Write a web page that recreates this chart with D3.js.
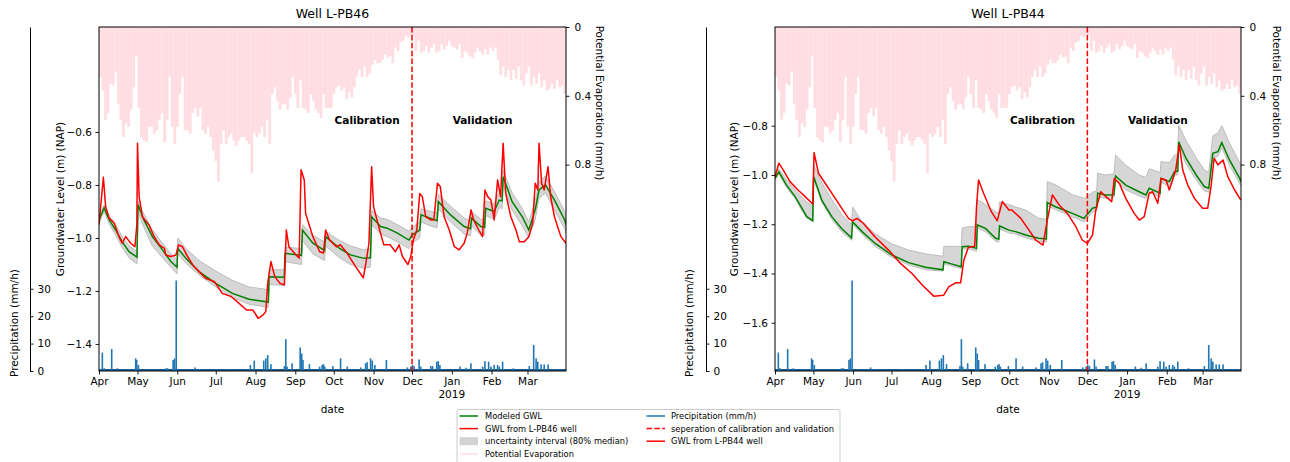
<!DOCTYPE html>
<html><head><meta charset="utf-8">
<script src="https://cdn.jsdelivr.net/npm/d3@7"></script>
<style>body{margin:0;background:#fff} text{font-family:"DejaVu Sans",sans-serif;fill:#000}</style>
</head><body><svg id="c" width="1290" height="462"></svg>
<script>
// ---------------- DATA ----------------
const startDate = new Date(Date.UTC(2018, 3, 1));
const endDate = new Date(Date.UTC(2019, 2, 31));
const separationDay = 244; // 1 Dec 2018
const calibrationLabelDay = 209, validationLabelDay = 299;

// potential evaporation (mm/h), daily maximum, one value per 2 days from 1 Apr 2018
const evapStepDays = 2;
const evapValues = [0.29,0.37,0.54,0.50,0.33,0.34,0.26,0.45,0.54,0.64,0.56,0.58,0.48,0.35,0.17,0.47,0.64,0.66,0.67,0.58,0.58,0.62,0.60,0.54,0.50,0.67,0.54,0.29,0.58,0.68,0.58,0.39,0.29,0.60,0.60,0.62,0.50,0.47,0.52,0.47,0.60,0.62,0.58,0.64,0.72,0.78,0.90,0.68,0.60,0.68,0.64,0.62,0.66,0.69,0.66,0.64,0.64,0.66,0.68,0.85,0.62,0.64,0.62,0.58,0.64,0.54,0.68,0.39,0.35,0.43,0.48,0.45,0.45,0.48,0.41,0.29,0.39,0.47,0.31,0.47,0.48,0.50,0.39,0.43,0.48,0.50,0.53,0.39,0.47,0.47,0.47,0.39,0.35,0.34,
0.37,0.35,0.42,0.38,0.41,0.35,0.29,0.25,0.29,0.23,0.29,0.27,0.22,0.19,0.21,0.21,0.19,0.16,0.18,0.17,0.21,0.12,0.14,0.09,0.08,0.05,0.06,0.05,0.05,0.14,0.08,0.15,0.14,0.11,0.15,0.12,0.10,0.15,0.14,0.10,0.13,0.11,0.08,0.11,0.12,0.13,0.10,0.18,0.14,0.15,0.17,0.18,0.15,0.12,0.14,0.16,0.13,0.16,0.12,0.14,0.12,0.19,0.28,0.23,0.29,0.25,0.31,0.25,0.30,0.23,0.31,0.34,0.27,0.23,0.34,0.29,0.33,0.27,0.35,0.31,0.37,0.36,0.33,0.36,0.31,0.35,0.34,0.39,0.40];

// precipitation events [day since 1 Apr 2018, mm/h]
const precipitation = [[2.6,6.7],[4,1],[9.9,8.0],[14.3,1],[23.4,0.7],[28.6,4.6],[29.4,4],[30.7,2.2],[52,1],[53.4,1],[57.8,4],[58.9,4.6],[60.2,33],[74.7,1.3],[78,0.7],[99.7,0.7],[118,2.2],[121,3.8],[128.4,3.8],[130,4.6],[131.5,5.8],[134,2.5],[138,0.6],[144.5,1.8],[145.6,11.6],[146.6,1.6],[150.5,2.8],[156.8,8.6],[158,6.4],[159,4],[164,2.5],[172,1.6],[174,2.2],[175,2.5],[176,1.6],[182.3,1.8],[188.3,4.6],[193.5,1.6],[204,1.3],[207.8,2.8],[209,3.2],[211.7,4.6],[213,3.8],[215,2.2],[224,4],[240.4,1.3],[243,1.6],[244.3,2.2],[245.6,1.8],[249.5,4.2],[250.8,1.6],[258.6,1.8],[260,1.8],[263.3,3.4],[264.4,3.6],[265.7,2.2],[275.6,0.6],[281.5,1.6],[286,1.2],[289.9,2.8],[295,0.7],[299,1.6],[300.8,3.6],[303.7,3.4],[305.5,1.6],[308,2.2],[310.7,2.2],[312,1.6],[314.6,3.4],[323,1],[335.4,1.8],[338.8,9.5],[340.7,4.6],[342,3.4],[344.6,2.4],[347,2.4],[350,2.4],[357.6,0.6],[362.8,0.6]];

// L-PB46 observed GWL [day, m NAP]
const pb46Observed = [[0,-0.951],[3.4,-0.771],[5.2,-0.882],[7.8,-0.925],[11.7,-0.943],[15.6,-0.995],[18,-1.02],[20.8,-0.995],[24.7,-1.02],[28,-1.033],[29.5,-0.95],[30,-0.643],[31.3,-0.844],[33.8,-0.92],[39,-0.951],[43,-0.995],[47,-1.026],[51,-1.039],[52,-1.064],[56,-1.07],[60,-1.064],[62,-1.026],[65,-1.033],[69,-1.07],[74,-1.108],[78,-1.127],[83,-1.152],[90,-1.165],[96,-1.209],[103,-1.221],[109,-1.246],[115,-1.272],[120,-1.272],[124,-1.303],[128,-1.29],[130,-1.278],[131.5,-1.171],[134,-1.089],[137,-1.146],[141,-1.171],[144.5,-1.177],[146,-0.97],[148,-1.033],[153.6,-1.064],[156,-1.076],[157.5,-0.743],[160,-0.781],[161,-0.907],[166.7,-0.995],[172,-1.052],[175,-1.057],[176.6,-0.97],[179.7,-1.008],[185,-1.033],[188,-1.026],[193.5,-1.058],[200,-1.108],[206,-1.15],[208,-1.096],[210.4,-1.02],[212.5,-0.731],[214,-0.882],[218,-0.957],[222,-1.026],[227,-1.026],[231,-1.052],[234,-1.026],[236.5,-1.07],[240.8,-1.10],[243,-1.07],[245,-1.008],[247.7,-0.97],[250,-0.832],[252,-0.844],[254.7,-0.92],[258.6,-0.932],[261,-0.932],[263.8,-0.794],[266,-0.806],[269,-0.92],[273,-0.97],[277,-1.033],[280.7,-1.045],[284.6,-1.02],[287,-0.982],[290,-0.894],[292,-0.932],[296,-0.97],[299,-0.995],[300.8,-0.819],[303,-0.844],[305.5,-0.857],[308,-0.932],[310.7,-0.781],[313,-0.844],[315,-0.643],[317,-0.832],[321,-0.92],[325,-0.97],[327.6,-1.014],[331.5,-1.014],[335,-0.995],[338,-0.945],[340,-0.794],[342,-0.819],[343,-0.643],[345,-0.794],[347,-0.819],[350,-0.731],[352,-0.844],[355,-0.92],[360,-0.995],[364,-1.02]];

// L-PB46 modeled GWL [day, median, lower 10%, upper 90%]
const pb46Modeled = [[0,-0.932,-0.945,-0.92],[4,-0.887,-0.9,-0.875],[8,-0.932,-0.948,-0.915],[13,-0.97,-0.99,-0.95],[18,-1.014,-1.035,-0.995],[23.4,-1.052,-1.075,-1.03],[29.6,-1.072,-1.098,-1.05],[30.4,-0.875,-0.9,-0.86],[35,-0.932,-0.96,-0.91],[41.6,-0.995,-1.03,-0.97],[49.5,-1.045,-1.075,-1.02],[56,-1.089,-1.11,-1.06],[60.8,-1.11,-1.135,-1.08],[61.4,-1.039,-1.06,-1.0],[67.7,-1.077,-1.095,-1.04],[78,-1.127,-1.14,-1.085],[91,-1.171,-1.185,-1.125],[104,-1.209,-1.225,-1.16],[117,-1.231,-1.25,-1.185],[132,-1.242,-1.262,-1.195],[132.6,-1.146,-1.175,-1.12],[144.4,-1.148,-1.18,-1.12],[145,-1.058,-1.09,-1.035],[157.8,-1.066,-1.1,-1.04],[158.6,-0.97,-1.01,-0.95],[166.7,-1.02,-1.06,-0.99],[175.8,-1.047,-1.085,-1.015],[176.6,-0.995,-1.03,-0.975],[187.5,-1.039,-1.075,-1.01],[196,-1.064,-1.1,-1.03],[206.5,-1.077,-1.115,-1.045],[211.6,-1.075,-1.11,-1.04],[212.5,-0.92,-0.95,-0.895],[219.5,-0.957,-0.985,-0.925],[224.7,-0.963,-0.995,-0.93],[232.6,-0.982,-1.015,-0.95],[241.6,-1.008,-1.04,-0.975],[244,-0.989,-1.02,-0.96],[250,-0.97,-1.0,-0.94],[251,-0.913,-0.94,-0.89],[258.6,-0.926,-0.955,-0.9],[263.5,-0.935,-0.962,-0.905],[264.5,-0.863,-0.89,-0.835],[274,-0.913,-0.94,-0.88],[284.6,-0.957,-0.985,-0.925],[289.5,-0.965,-0.992,-0.935],[290.5,-0.926,-0.955,-0.9],[297.7,-0.957,-0.99,-0.93],[300.5,-0.96,-0.99,-0.93],[301.4,-0.888,-0.915,-0.86],[308,-0.9,-0.93,-0.87],[312,-0.857,-0.885,-0.83],[314.2,-0.86,-0.89,-0.83],[315,-0.769,-0.8,-0.745],[322,-0.863,-0.895,-0.83],[330,-0.92,-0.955,-0.89],[335,-0.97,-1.0,-0.94],[340,-0.894,-0.93,-0.86],[343,-0.819,-0.85,-0.79],[348,-0.8,-0.83,-0.765],[355,-0.857,-0.895,-0.825],[363,-0.932,-0.965,-0.9],[364,-0.95,-0.985,-0.915]];

// L-PB44 observed GWL [day, m NAP]
const pb44Observed = [[0,-1.007],[3,-0.952],[6.5,-0.98],[11.7,-1.027],[18,-1.061],[23.5,-1.088],[29.5,-1.118],[30.5,-0.909],[34,-0.993],[41.8,-1.054],[49.6,-1.115],[57.4,-1.176],[60.5,-1.186],[64,-1.176],[69,-1.196],[78,-1.251],[88.7,-1.305],[98,-1.359],[107,-1.4],[115,-1.447],[124,-1.492],[131.8,-1.488],[135.7,-1.454],[141,-1.438],[145,-1.438],[147.5,-1.346],[151,-1.294],[156,-1.289],[157.4,-1.129],[159,-1.02],[163,-1.075],[169,-1.149],[173.6,-1.186],[177.5,-1.108],[182.7,-1.142],[185,-1.142],[192,-1.176],[198.4,-1.224],[203.6,-1.264],[209.3,-1.285],[212.7,-1.183],[216.7,-1.081],[222,-1.122],[228.4,-1.156],[235,-1.21],[240,-1.264],[244,-1.278],[248,-1.244],[250.6,-1.142],[254.5,-1.068],[258.4,-1.088],[263,-1.108],[265,-1.014],[269,-1.034],[274,-1.095],[280.6,-1.156],[284.5,-1.183],[288.4,-1.169],[292.3,-1.074],[295,-1.068],[299,-1.115],[301.5,-1.014],[305.4,-1.02],[308,-1.061],[310.6,-1.02],[313,-0.98],[315.8,-0.878],[318.5,-0.98],[322.4,-1.041],[327.6,-1.095],[334,-1.135],[338,-1.135],[340.6,-1.047],[343,-0.932],[346,-0.959],[350,-0.939],[353.7,-1.007],[359,-1.061],[363,-1.095],[364,-1.10]];

// L-PB44 modeled GWL [day, median, lower, upper]
const pb44Modeled = [[0,-1.014,-1.02,-1.0],[3,-0.987,-0.995,-0.975],[9,-1.041,-1.05,-1.02],[15.7,-1.088,-1.095,-1.06],[21,-1.135,-1.145,-1.09],[24.8,-1.169,-1.175,-1.11],[29.5,-1.185,-1.19,-1.125],[30.2,-1.007,-1.015,-0.96],[36.5,-1.102,-1.11,-1.03],[44.4,-1.169,-1.18,-1.1],[52,-1.217,-1.23,-1.16],[59.8,-1.255,-1.265,-1.2],[60.6,-1.19,-1.2,-1.13],[68,-1.23,-1.24,-1.19],[78.3,-1.278,-1.29,-1.24],[91.4,-1.325,-1.335,-1.28],[104.4,-1.356,-1.365,-1.305],[117.5,-1.375,-1.385,-1.32],[131.2,-1.385,-1.39,-1.33],[131.9,-1.352,-1.36,-1.29],[138.4,-1.362,-1.37,-1.29],[145.5,-1.373,-1.38,-1.29],[146.2,-1.291,-1.30,-1.215],[151.4,-1.289,-1.30,-1.21],[157.4,-1.298,-1.31,-1.21],[158,-1.203,-1.215,-1.10],[164.4,-1.217,-1.23,-1.12],[172.3,-1.257,-1.27,-1.15],[174.8,-1.26,-1.272,-1.155],[175.4,-1.207,-1.22,-1.11],[182.7,-1.224,-1.235,-1.12],[188,-1.23,-1.24,-1.13],[195.8,-1.244,-1.255,-1.142],[206,-1.257,-1.27,-1.176],[212,-1.26,-1.272,-1.18],[212.7,-1.112,-1.125,-1.027],[219,-1.129,-1.14,-1.04],[225.8,-1.142,-1.155,-1.06],[232.3,-1.156,-1.17,-1.08],[241.4,-1.176,-1.19,-1.095],[244,-1.159,-1.175,-1.085],[248,-1.135,-1.15,-1.07],[251.3,-1.13,-1.145,-1.065],[252,-1.074,-1.09,-0.993],[258.4,-1.081,-1.095,-1.0],[264.8,-1.08,-1.092,-0.995],[266,-1.004,-1.02,-0.919],[274,-1.041,-1.06,-0.96],[284.5,-1.068,-1.085,-1.0],[289.7,-1.081,-1.095,-1.01],[292.3,-1.054,-1.07,-0.975],[300.8,-1.074,-1.09,-0.99],[301.5,-1.014,-1.03,-0.946],[308,-1.027,-1.045,-0.95],[312,-0.987,-1.0,-0.92],[314.6,-0.985,-1.0,-0.915],[315.3,-0.865,-0.88,-0.797],[321,-0.932,-0.955,-0.86],[329,-1.0,-1.02,-0.93],[335.4,-1.047,-1.065,-0.98],[338.8,-1.054,-1.07,-0.99],[342,-0.912,-0.93,-0.84],[346,-0.905,-0.925,-0.83],[349,-0.869,-0.89,-0.80],[355,-0.939,-0.96,-0.87],[363,-1.014,-1.035,-0.95],[364,-1.028,-1.045,-0.965]];

const pb46Ticks = [-1.4,-1.2,-1.0,-0.8,-0.6];
const pb44Ticks = [-1.6,-1.4,-1.2,-1.0,-0.8];
const evapTicks = [0,0.4,0.8];
const precipTicks = [0,10,20,30];

const legendCol1 = ["Modeled GWL","GWL from L-PB46 well","uncertainty interval (80% median)","Potential Evaporation"];
const legendCol2 = ["Precipitation (mm/h)","seperation of calibration and validation","GWL from L-PB44 well"];

// ---------------- DRAW ----------------
const svg = d3.select("#c");
const TOP = 27, BOT = 371;
const C = {green:"#008000", red:"#ff0000", blue:"#1f77b4", pink:"#ffdde2", band:"#d6d6d6", bandEdge:"#bdbdbd"};
const dt = d => d3.utcMinute.offset(startDate, Math.round(d*1440));
const minus = v => (v < 0 ? "\u2212" : "") + Math.abs(v).toFixed(1);

function styleAxis(g, fs) {
  g.selectAll("text").style("font-family","DejaVu Sans").style("font-size", fs+"px").attr("fill","#000");
  g.selectAll("line").attr("stroke","#000").attr("stroke-width",0.9);
  g.selectAll("path.domain").attr("stroke","#000");
}

function drawPanel(cfg, idx) {
  const g = svg.append("g");
  const x = d3.scaleUtc().domain([startDate, endDate]).range([cfg.x0, cfg.x1]);
  const yG = d3.scaleLinear().domain(cfg.gwlDomain).range([BOT, TOP]);
  const yE = d3.scaleLinear().domain([0, 2]).range([TOP, BOT]);
  const yP = d3.scaleLinear().domain([0, 125.5]).range([BOT, TOP]);

  const clipId = "clip" + idx;
  svg.append("clipPath").attr("id", clipId).append("rect")
    .attr("x", cfg.x0).attr("y", TOP).attr("width", cfg.x1 - cfg.x0).attr("height", BOT - TOP);
  const p = g.append("g").attr("clip-path", `url(#${clipId})`);

  // evaporation (hanging from the top)
  p.append("g").selectAll("rect").data(evapValues).join("rect")
    .attr("x", (v,i) => x(dt(i*evapStepDays)))
    .attr("width", (v,i) => x(dt((i+1)*evapStepDays)) - x(dt(i*evapStepDays)) + 0.2)
    .attr("y", yE(0))
    .attr("height", v => yE(v) - yE(0))
    .attr("fill", C.pink);

  // uncertainty band
  p.append("path").datum(cfg.mod)
    .attr("d", d3.area().x(d => x(dt(d[0]))).y0(d => yG(d[2])).y1(d => yG(d[3])))
    .attr("fill", C.band);
  [2,3].forEach(k => p.append("path").datum(cfg.mod)
    .attr("d", d3.line().x(d => x(dt(d[0]))).y(d => yG(d[k])))
    .attr("fill","none").attr("stroke", C.bandEdge).attr("stroke-width", 1));

  // modeled
  p.append("path").datum(cfg.mod)
    .attr("d", d3.line().x(d => x(dt(d[0]))).y(d => yG(d[1])))
    .attr("fill","none").attr("stroke", C.green).attr("stroke-width", 1.5);
  // observed
  p.append("path").datum(cfg.obs)
    .attr("d", d3.line().x(d => x(dt(d[0]))).y(d => yG(d[1])))
    .attr("fill","none").attr("stroke", C.red).attr("stroke-width", 1.5).attr("stroke-linejoin","round");

  // precipitation
  p.append("rect").attr("x", cfg.x0).attr("width", cfg.x1 - cfg.x0)
    .attr("y", yP(0) - 2).attr("height", 2).attr("fill", "#1f5f94");
  p.append("g").selectAll("rect").data(precipitation).join("rect")
    .attr("x", d => x(dt(d[0])) - 0.8).attr("width", 1.6)
    .attr("y", d => yP(d[1])).attr("height", d => yP(0) - yP(d[1]))
    .attr("fill", C.blue);

  // separation line
  const xs = x(dt(separationDay));
  g.append("line").attr("x1", xs).attr("x2", xs).attr("y1", TOP).attr("y2", BOT)
    .attr("stroke", C.red).attr("stroke-width", 1.5).attr("stroke-dasharray", "5.5,2.4");

  // period labels
  const ly = TOP + 0.282*(BOT-TOP);
  [["Calibration", calibrationLabelDay], ["Validation", validationLabelDay]].forEach(([t, d]) =>
    g.append("text").attr("x", x(dt(d))).attr("y", ly).attr("text-anchor","middle")
      .style("font-size","10.5px").style("font-weight","bold").text(t));

  // frame
  g.append("rect").attr("x", cfg.x0).attr("y", TOP).attr("width", cfg.x1 - cfg.x0).attr("height", BOT - TOP)
    .attr("fill","none").attr("stroke","#000").attr("stroke-width",1);

  // axes
  const ax = g.append("g").attr("transform", `translate(0,${BOT})`)
    .call(d3.axisBottom(x).ticks(d3.utcMonth.every(1)).tickFormat(d3.utcFormat("%b")).tickSize(3.5).tickPadding(3.5));
  ax.select(".domain").remove();
  styleAxis(ax, 10.5);
  g.append("text").attr("x", x(new Date(Date.UTC(2019,0,1)))).attr("y", 398).attr("text-anchor","middle")
    .style("font-size","10.5px").text("2019");
  g.append("text").attr("x", (cfg.x0+cfg.x1)/2).attr("y", 413).attr("text-anchor","middle")
    .style("font-size","10.5px").text("date");

  const ay = g.append("g").attr("transform", `translate(${cfg.x0},0)`)
    .call(d3.axisLeft(yG).tickValues(cfg.ticks).tickFormat(minus).tickSize(3.5).tickPadding(3.5));
  ay.select(".domain").remove();
  styleAxis(ay, 10.5);

  const ae = g.append("g").attr("transform", `translate(${cfg.x1},0)`)
    .call(d3.axisRight(yE).tickValues(evapTicks).tickFormat(d3.format("")).tickSize(3.5).tickPadding(5));
  ae.select(".domain").remove();
  styleAxis(ae, 10.5);

  const ap = g.append("g").attr("transform", `translate(${cfg.px},0)`)
    .call(d3.axisRight(yP).tickValues(precipTicks).tickSize(3.5).tickPadding(4).tickSizeOuter(0));
  styleAxis(ap, 10.5);

  // axis titles
  const rot = (tx, ty, a, t) => g.append("text").attr("transform", `translate(${tx},${ty}) rotate(${a})`)
    .attr("text-anchor","middle").attr("dominant-baseline","central").style("font-size","10.5px").text(t);
  rot(cfg.precipLabelX, 323, -90, "Precipitation (mm/h)");
  rot(cfg.gwlLabelX, 199, -90, "Groundwater Level (m) (NAP)");
  rot(cfg.evapLabelX, 103, 90, "Potential Evaporation (mm/h)");

  g.append("text").attr("x", (cfg.x0+cfg.x1)/2).attr("y", 18).attr("text-anchor","middle")
    .style("font-size","12.5px").text(cfg.title);
}

drawPanel({x0:99, x1:566, px:30, gwlDomain:[-1.502,-0.204], ticks:pb46Ticks, obs:pb46Observed, mod:pb46Modeled,
  title:"Well L-PB46", precipLabelX:14, gwlLabelX:60, evapLabelX:600}, 0);
drawPanel({x0:775, x1:1241, px:706, gwlDomain:[-1.796,-0.399], ticks:pb44Ticks, obs:pb44Observed, mod:pb44Modeled,
  title:"Well L-PB44", precipLabelX:689, gwlLabelX:734, evapLabelX:1277}, 1);

// legend
const lg = svg.append("g");
lg.append("rect").attr("x", 457).attr("y", 409.5).attr("width", 383).attr("height", 54).attr("rx", 2)
  .attr("fill","#fff").attr("fill-opacity",0.8).attr("stroke","#cccccc").attr("stroke-width",1);
const rowY = [416, 428.6, 441.2, 453.8];
const handles1 = [
  {type:"line", color:C.green}, {type:"line", color:C.red}, {type:"patch", color:"#d3d3d3"}, {type:"line", color:C.pink}];
const handles2 = [{type:"line", color:C.blue}, {type:"dash", color:C.red}, {type:"line", color:C.red}];
function legendItem(hx, tx, y, h, label) {
  if (h.type === "patch") {
    lg.append("rect").attr("x", hx).attr("y", y-4).attr("width", 18.5).attr("height", 8).attr("fill", h.color);
  } else {
    lg.append("line").attr("x1", hx).attr("x2", hx+18.5).attr("y1", y).attr("y2", y)
      .attr("stroke", h.color).attr("stroke-width", 1.5)
      .attr("stroke-dasharray", h.type === "dash" ? "5.5,2.4" : null);
  }
  lg.append("text").attr("x", tx).attr("y", y).attr("dominant-baseline","central")
    .style("font-size","8.3px").text(label);
}
legendCol1.forEach((t,i) => legendItem(459.5, 485, rowY[i], handles1[i], t));
legendCol2.forEach((t,i) => legendItem(646.5, 671, rowY[i], handles2[i], t));
</script></body></html>
